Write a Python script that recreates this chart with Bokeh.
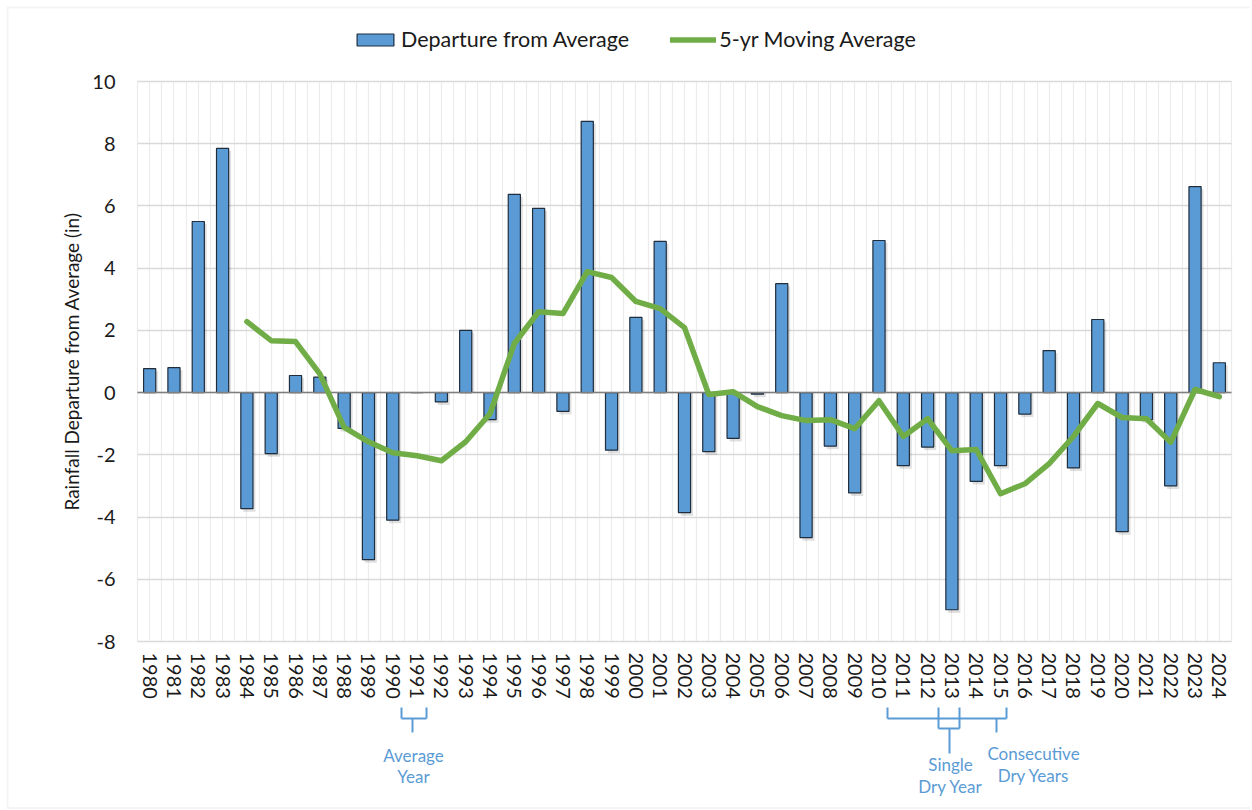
import numpy as np
from bokeh.plotting import figure
from bokeh.models import (Legend, LegendItem, FixedTicker, Label, Arrow, Range1d,
                          BoxAnnotation)
from bokeh.embed import file_html
from bokeh.resources import INLINE

# ---------------- data ----------------
years = list(range(1980, 2025))
departure = [0.77, 0.80, 5.50, 7.85, -3.73, -1.96, 0.55, 0.50, -1.15, -5.37,
             -4.10, 0.00, -0.30, 2.00, -0.87, 6.37, 5.92, -0.60, 8.72, -1.85,
             2.42, 4.86, -3.86, -1.90, -1.47, -0.05, 3.50, -4.66, -1.72, -3.22,
             4.89, -2.35, -1.75, -6.98, -2.85, -2.35, -0.69, 1.35, -2.42, 2.35,
             -4.47, -0.87, -3.00, 6.62, 0.96]
ma_years = years[4:]
moving_avg = [2.28, 1.67, 1.64, 0.60, -1.12, -1.58, -1.93, -2.03, -2.19, -1.58,
              -0.68, 1.58, 2.60, 2.54, 3.89, 3.70, 2.93, 2.70, 2.09, -0.06,
              0.03, -0.45, -0.74, -0.90, -0.87, -1.16, -0.26, -1.41, -0.84, -1.87,
              -1.83, -3.25, -2.93, -2.28, -1.41, -0.35, -0.80, -0.84, -1.60, 0.10,
              -0.13]
y_ticks = [-8, -6, -4, -2, 0, 2, 4, 6, 8, 10]
y_tick_labels = ["-8", "-6", "-4", "-2", "0", "2", "4", "6", "8", "10"]

FONT = "Lato"
BLUE = "#5B9BD5"
GREEN = "#70AD47"
ANNO = "#5B9BD5"
TXT = "#1a1a1a"

# layout (page pixels); the frame covers the whole page
W, H = 1250, 809
PL, PR = 137, 1231            # plot area left/right
PLOT_TOP, PLOT_BOT = 81, 641  # where y=10 and y=-8 sit
X0, X1 = years[0] - 0.5, years[-1] + 0.5
Y0, Y1 = -8, 10
PXY = (PLOT_BOT - PLOT_TOP) / (Y1 - Y0)
PXX = (PR - PL) / (X1 - X0)


def py(page_y):
    return Y1 - (page_y - PLOT_TOP) / PXY


def xd(page_x):
    return X0 + (page_x - PL) / PXX


p = figure(frame_width=W, frame_height=H, output_backend="svg",
           toolbar_location=None,
           x_range=Range1d(xd(0), xd(W)),
           y_range=Range1d(py(H), py(0)),
           min_border_left=0, min_border_right=0,
           min_border_top=0, min_border_bottom=0)
p.outline_line_color = None
p.background_fill_color = "white"

# chart border
p.add_layout(BoxAnnotation(left=xd(7), right=xd(W + 20), top=py(7), bottom=py(807.5),
                           fill_alpha=0, line_color="#d9d9d9", line_width=2))

# grid
p.ygrid.ticker = FixedTicker(ticks=y_ticks)
p.ygrid.grid_line_color = "#d9d9d9"
p.ygrid.grid_line_width = 1.5
p.ygrid.cross_bounds = (X0, X1)
p.xgrid.ticker = FixedTicker(ticks=list(np.arange(X0, X1 + 0.01, 0.5)))
p.xgrid.grid_line_color = "#ececec"
p.xgrid.grid_line_width = 1.2
p.xgrid.cross_bounds = (Y0, Y1)

# axes (placed at the plot-area edges)
p.yaxis.fixed_location = X0
p.yaxis.ticker = FixedTicker(ticks=y_ticks)
p.yaxis.major_label_overrides = dict(zip(y_ticks, y_tick_labels))
p.yaxis.bounds = (Y0, Y1)
p.yaxis.axis_line_color = None
p.yaxis.major_tick_line_color = None
p.yaxis.minor_tick_line_color = None
p.yaxis.major_tick_out = 0
p.yaxis.major_label_text_font = FONT
p.yaxis.major_label_text_font_size = "20px"
p.yaxis.major_label_text_color = TXT
p.yaxis.major_label_standoff = 22

p.xaxis.fixed_location = Y0
p.xaxis.ticker = FixedTicker(ticks=years)
p.xaxis.major_label_overrides = {y: str(y) for y in years}
p.xaxis.axis_line_color = None
p.xaxis.major_tick_line_color = None
p.xaxis.minor_tick_line_color = None
p.xaxis.major_tick_out = 0
p.xaxis.major_label_orientation = -np.pi / 2
p.xaxis.major_label_text_font = FONT
p.xaxis.major_label_text_font_size = "20px"
p.xaxis.major_label_text_color = TXT
p.xaxis.major_label_standoff = 11

p.add_layout(Label(x=xd(71), y=py(361), text="Rainfall Departure from Average (in)",
                   angle=np.pi / 2, text_font=FONT, text_font_size="19px",
                   text_color=TXT, text_align="center", text_baseline="middle"))

# shadow + bars
shadow_x = [y + 0.1 for y in years]
shadow_top = [v - 0.08 if v > 0 else 0 for v in departure]
shadow_bot = [0 if v >= 0 else v - 0.1 for v in departure]
p.vbar(x=shadow_x, top=shadow_top, bottom=shadow_bot,
       width=0.5, fill_color="black", fill_alpha=0.12, line_color=None)
bars = p.vbar(x=years, top=departure, bottom=0, width=0.5,
              fill_color=BLUE, line_color="#1f2d3d", line_width=1.2)

# zero line
p.line(x=[X0, X1], y=[0, 0], line_color="#7f7f7f", line_width=1.5)

ma = p.line(x=ma_years, y=moving_avg, line_color=GREEN, line_width=5.5,
            line_join="round", line_cap="round")

# legend at the top
LEG_H = 34
legend = Legend(items=[LegendItem(label="Departure from Average", renderers=[bars]),
                       LegendItem(label="5-yr Moving Average", renderers=[ma])],
                orientation="horizontal",
                location=(352, H - (35 + LEG_H / 2)),
                label_text_font=FONT, label_text_font_size="21.5px",
                label_text_color=TXT,
                glyph_width=46, glyph_height=15, label_standoff=3,
                spacing=41, padding=4, margin=0,
                border_line_color=None, background_fill_alpha=0)
p.add_layout(legend, "center")


def seg(x0, y0, x1, y1):
    p.add_layout(Arrow(end=None, x_start=xd(x0), y_start=py(y0), x_end=xd(x1), y_end=py(y1),
                       line_color=ANNO, line_width=2))


# Average year bracket (1991)
seg(401, 707, 401, 718); seg(426, 707, 426, 718)
seg(401, 718, 426, 718); seg(412, 718, 412, 732)
# Consecutive dry years bracket (2011-2015)
seg(887, 707, 887, 718); seg(1006, 707, 1006, 718)
seg(887, 718, 1006, 718); seg(996, 718, 996, 732)
# Single dry year bracket (2013)
seg(938, 707, 938, 728); seg(959, 707, 959, 728)
seg(938, 728, 959, 728); seg(949, 728, 949, 753)


def lab(x, page_y, text):
    p.add_layout(Label(x=xd(x), y=py(page_y), text=text, text_font=FONT,
                       text_font_size="17px", text_color=ANNO,
                       text_align="center", text_baseline="middle"))


lab(413, 755, "Average")
lab(413, 776, "Year")
lab(950, 764, "Single")
lab(950, 786, "Dry Year")
lab(1033, 753, "Consecutive")
lab(1033, 775, "Dry Years")

open("out.html", "w").write(file_html(p, INLINE))
